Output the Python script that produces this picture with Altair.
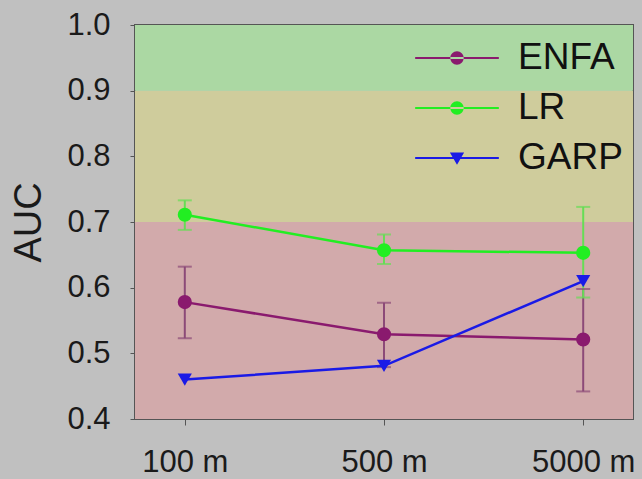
import altair as alt
import pandas as pd

# Grain sizes on the x axis
scales = ["100 m", "500 m", "5000 m"]

# Mean AUC and error-bar limits per model
series_names = ["ENFA", "LR", "GARP"]
enfa_auc = [0.578, 0.529, 0.521]
enfa_lo = [0.523, 0.479, 0.442]
enfa_hi = [0.632, 0.577, 0.598]
lr_auc = [0.711, 0.657, 0.653]
lr_lo = [0.688, 0.636, 0.585]
lr_hi = [0.733, 0.681, 0.723]
garp_auc = [0.460, 0.481, 0.610]

# Quality bands behind the curves
band_lo = [0.4, 0.7, 0.9]
band_hi = [0.7, 0.9, 1.0]
band_col = ["#d2aaab", "#cfcc9c", "#abd8a3"]

line_col = {"ENFA": "#8a1a6e", "LR": "#22ee22", "GARP": "#1a1ae6"}
bar_col = {"ENFA": "#8c4a78", "LR": "#66dd55", "GARP": "#1a1ae6"}
marker = {"ENFA": "circle", "LR": "circle", "GARP": "triangle-down"}

rows = []
for name, vals in zip(series_names, [enfa_auc, lr_auc, garp_auc]):
    for s, v in zip(scales, vals):
        rows.append({"series": name, "scale": s, "auc": v,
                     "lc": line_col[name], "shape": marker[name]})
df = pd.DataFrame(rows)

err_rows = []
for name, lo, hi in [("ENFA", enfa_lo, enfa_hi), ("LR", lr_lo, lr_hi)]:
    for s, a, b in zip(scales, lo, hi):
        err_rows.append({"series": name, "scale": s, "lo": a, "hi": b,
                         "bc": bar_col[name]})
err = pd.DataFrame(err_rows)

bands = pd.DataFrame({"lo": band_lo, "hi": band_hi, "col": band_col})

xenc = alt.X("scale:N", sort=scales,
             scale=alt.Scale(type="point", padding=0.25),
             axis=alt.Axis(title=None, labelAngle=0, labelFontSize=31,
                           labelPadding=22, tickSize=6, tickColor="#555555",
                           domain=False, labelColor="#1a1a1a"))
ysc = alt.Scale(domain=[0.4, 1.0], nice=False, zero=False)

band_layer = alt.Chart(bands).mark_rect().encode(
    x=alt.value(0), x2=alt.value(498),
    y=alt.Y("lo:Q", scale=ysc,
            axis=alt.Axis(title="AUC", values=[0.4, 0.5, 0.6, 0.7, 0.8, 0.9, 1.0],
                          format=".1f", labelFontSize=31, labelPadding=20,
                          tickSize=5, tickColor="#555555", domain=False,
                          grid=False, titleFontSize=38, titleFontWeight="normal",
                          titlePadding=18, labelColor="#1a1a1a",
                          titleColor="#1a1a1a")),
    y2="hi:Q",
    fill=alt.Fill("col:N", scale=None),
)

rule_layer = alt.Chart(err).mark_rule(strokeWidth=2).encode(
    x=xenc, y=alt.Y("lo:Q", scale=ysc), y2="hi:Q",
    stroke=alt.Stroke("bc:N", scale=None),
)
cap_lo = alt.Chart(err).mark_tick(orient="horizontal", size=14, thickness=2).encode(
    x=xenc, y=alt.Y("lo:Q", scale=ysc), color=alt.Color("bc:N", scale=None))
cap_hi = alt.Chart(err).mark_tick(orient="horizontal", size=14, thickness=2).encode(
    x=xenc, y=alt.Y("hi:Q", scale=ysc), color=alt.Color("bc:N", scale=None))

line_layer = alt.Chart(df).mark_line(strokeWidth=2.5).encode(
    x=xenc, y=alt.Y("auc:Q", scale=ysc), detail="series:N",
    stroke=alt.Stroke("lc:N", scale=None),
)
point_layer = alt.Chart(df).mark_point(filled=True, size=200, opacity=1).encode(
    x=xenc, y=alt.Y("auc:Q", scale=ysc),
    fill=alt.Fill("lc:N", scale=None),
    shape=alt.Shape("shape:N", scale=None),
)

# Legend glyphs: a bar for the line plus the series marker; the path runs
# from -2 to 2 so the glyph is twice as wide as the legend symbol size
line_bar = "M-2,-0.05L2,-0.05L2,0.05L-2,0.05Z"
circ = "M-0.32,0A0.32,0.32 0 1,0 0.32,0A0.32,0.32 0 1,0 -0.32,0Z"
tri = "M-0.34,-0.26L0.34,-0.26L0,0.32Z"
legend_paths = [line_bar + circ, line_bar + circ, line_bar + tri]
legend_cols = [line_col[n] for n in series_names]

legend_layer = alt.Chart(df).mark_point(filled=True, size=1750, opacity=1).encode(
    x=xenc, y=alt.Y("auc:Q", scale=ysc),
    fill=alt.Fill("series:N",
                  scale=alt.Scale(domain=series_names, range=legend_cols),
                  legend=alt.Legend(title=None, orient="none", legendX=301,
                                    legendY=12, labelFontSize=37,
                                    labelColor="#111111", rowPadding=11,
                                    symbolSize=1750, symbolStrokeWidth=0,
                                    labelOffset=40)),
    shape=alt.Shape("series:N",
                    scale=alt.Scale(domain=series_names, range=legend_paths)),
).transform_filter("false")

chart = alt.layer(
    band_layer, rule_layer, cap_lo, cap_hi, line_layer, point_layer, legend_layer
).resolve_scale(fill="independent", shape="independent").properties(
    width=498, height=394,
    background="#c0c0c0",
    padding={"left": 135, "top": 25, "right": 9, "bottom": 60},
    autosize=alt.AutoSizeParams(type="none"),
).configure_view(stroke="#555555", strokeWidth=2).configure_axis(
    labelFont="Liberation Sans", titleFont="Liberation Sans"
).configure_legend(labelFont="Liberation Sans")

chart.save("out.html", embed_options={"renderer": "svg", "actions": False})
